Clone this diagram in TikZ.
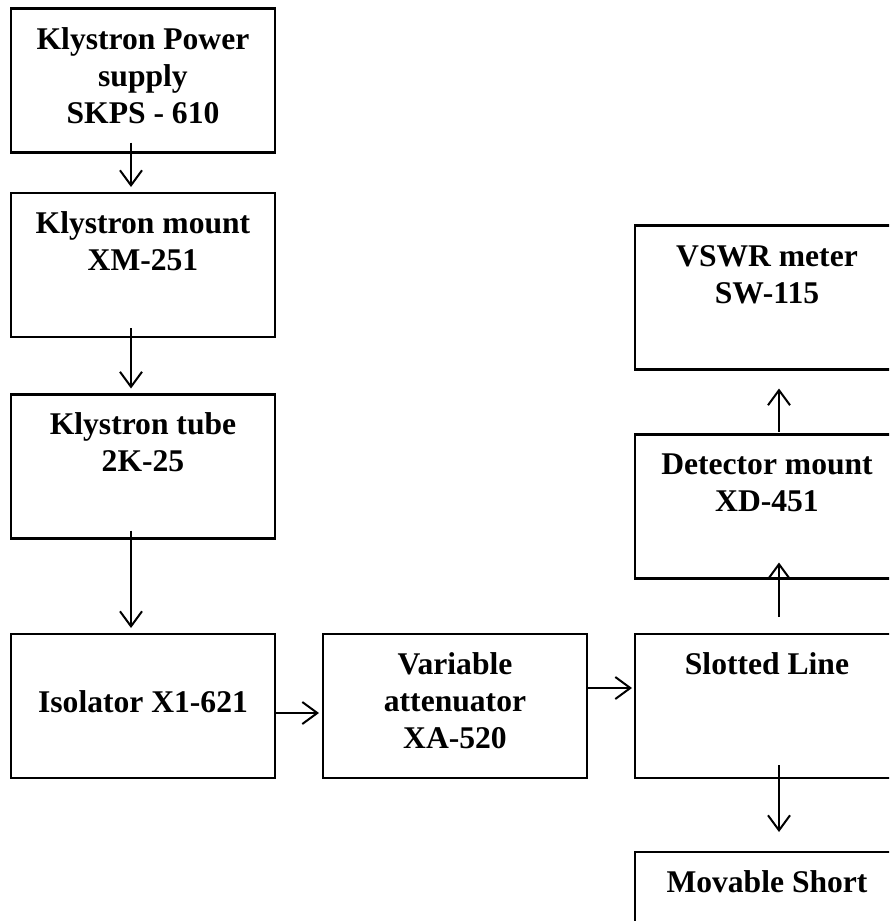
\documentclass[tikz,border=0pt]{standalone}
\usepackage{fontspec}
\setmainfont{Liberation Serif}
\usetikzlibrary{arrows.meta}
\newcommand{\bxtext}[2]{\parbox[c][144pt][t]{264pt}{\centering\fontsize{31.6}{37}\selectfont\bfseries\vspace*{#1}\strut #2}}
\begin{document}
\begin{tikzpicture}[x=1pt,y=-1pt,
  blk/.style={draw, line width=2.2pt, minimum width=264pt, minimum height=144pt, inner sep=0pt, outer sep=0pt},
  arr/.style={line width=2pt, -{Straight Barb[length=15pt,width=22pt,line width=2pt]}}]
\useasboundingbox (0,0) rectangle (889,921);
\fill[white] (0,0) rectangle (889,921);
\clip (0,0) rectangle (889,921);
\node[blk] (kps) at (143,80.5) {\bxtext{15pt}{Klystron Power\\supply\\SKPS - 610}};
\node[blk] (km) at (143,265) {\bxtext{14.1pt}{Klystron mount\\XM-251}};
\node[blk] (kt) at (143,466.5) {\bxtext{14.1pt}{Klystron tube\\2K-25}};
\node[blk] (iso) at (143,706) {\bxtext{53pt}{Isolator X1-621}};
\node[blk] (att) at (455,706) {\bxtext{14.1pt}{Variable\\attenuator\\XA-520}};
\node[blk] (sl) at (767,706) {\bxtext{14.1pt}{Slotted Line}};
\node[blk] (vs) at (767,297.5) {\bxtext{15pt}{VSWR meter\\SW-115}};
\node[blk] (det) at (767,506.5) {\bxtext{14.1pt}{Detector mount\\XD-451}};
\node[blk] (ms) at (767,924) {\bxtext{15pt}{Movable Short}};
\draw[arr] ([xshift=-12pt,yshift=10pt]kps.south) -- ([xshift=-12pt,yshift=6pt]km.north);
\draw[arr] ([xshift=-12pt,yshift=9pt]km.south) -- ([xshift=-12pt,yshift=6pt]kt.north);
\draw[arr] ([xshift=-12pt,yshift=8pt]kt.south) -- ([xshift=-12pt,yshift=6pt]iso.north);
\draw[arr] ([yshift=-7pt]iso.east) -- ([xshift=-4pt,yshift=-7pt]att.west);
\draw[arr] ([yshift=18pt]att.east) -- ([xshift=-3pt,yshift=18pt]sl.west);
\draw[arr] ([xshift=12pt,yshift=17pt]sl.north) -- ([xshift=12pt,yshift=16pt]det.south);
\draw[arr] ([xshift=12pt,yshift=3pt]det.north) -- ([xshift=12pt,yshift=-19pt]vs.south);
\draw[arr] ([xshift=12pt,yshift=13pt]sl.south) -- ([xshift=12pt,yshift=20pt]ms.north);
\end{tikzpicture}
\end{document}
